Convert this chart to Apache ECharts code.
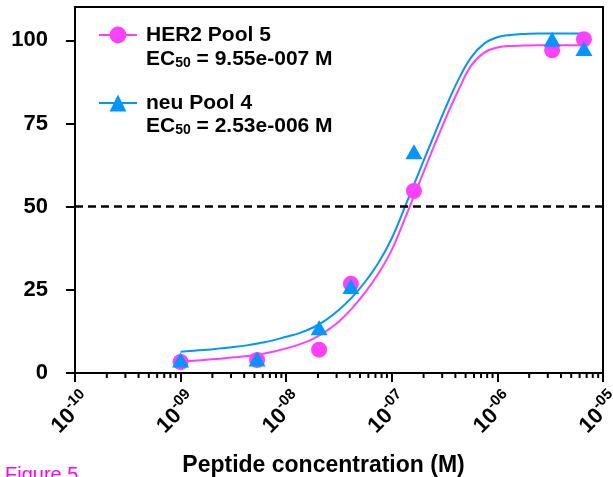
<!DOCTYPE html>
<html>
<head>
<meta charset="utf-8">
<script src="https://cdn.jsdelivr.net/npm/echarts@6/dist/echarts.min.js"></script>
<style>
html,body{margin:0;padding:0;background:#fff;}
#chart{width:613px;height:477px;}
</style>
</head>
<body>
<div id="chart"></div>
<script>
// ---- data ----
const pointConc = [1e-9, 5.3e-9, 2.05e-8, 4.1e-8, 1.62e-7, 3.3e-6, 6.6e-6];
const herResp = [3.3, 3.9, 7.0, 26.8, 54.7, 97.0, 100.3];
const neuResp = [3.9, 4.2, 13.6, 26.0, 66.5, 100.3, 97.5];

const fitConc = [
  1e-9, 1.334e-9, 1.778e-9, 2.371e-9, 3.162e-9, 4.217e-9, 5.623e-9, 7.499e-9,
  1e-8, 1.334e-8, 1.778e-8, 2.371e-8, 3.162e-8, 4.217e-8, 5.623e-8, 7.499e-8,
  1e-7, 1.334e-7, 1.778e-7, 2.371e-7, 3.162e-7, 4.217e-7, 5.623e-7, 7.499e-7,
  1e-6, 1.334e-6, 1.778e-6, 2.371e-6, 3.162e-6, 4.217e-6, 5.623e-6, 6.6e-6
];
const herFit = [
  3.4, 3.7, 4.0, 4.3, 4.7, 5.1, 5.6, 6.4,
  7.4, 8.6, 10.2, 12.5, 15.5, 19.5, 24.3, 30.0,
  37.0, 46.5, 56.3, 66.2, 75.8, 84.6, 92.3, 96.3,
  97.8, 98.3, 98.4, 98.5, 98.5, 98.5, 98.5, 98.5
];
const neuFit = [
  6.4, 6.7, 7.0, 7.4, 7.8, 8.3, 9.0, 9.8,
  10.9, 12.0, 13.6, 15.9, 19.0, 22.8, 27.5, 33.2,
  40.5, 50.0, 59.8, 69.5, 79.0, 87.8, 94.8, 99.0,
  100.9, 101.6, 101.9, 102.0, 102.0, 102.0, 102.0, 102.0
];

const seriesNames = ['HER2 Pool 5', 'neu Pool 4'];
const ec50Labels = ['9.55e-007 M', '2.53e-006 M'];
const yTicks = [0, 25, 50, 75, 100];
const thresholdY = 50;
const xTitle = 'Peptide concentration (M)';
const figureLabel = 'Figure 5';

// minor tick positions (2..9 x each decade)
const minorTicks = [];
for (let d = -10; d < -5; d++) {
  for (let k = 2; k <= 9; k++) minorTicks.push(k * Math.pow(10, d));
}

const MAG = '#ff40ff';
const BLUE = '#0096ff';
const FONT = 'Arial, "Liberation Sans", sans-serif';

const zip = (xs, ys) => xs.map((x, i) => [x, ys[i]]);

const chart = echarts.init(document.getElementById('chart'), null, {renderer: 'canvas'});

const ecRich = {
  a: {fontSize: 21, fontWeight: 'bold', fontFamily: FONT, fill: '#000', color: '#000', lineHeight: 24, verticalAlign: 'bottom'},
  s: {fontSize: 14, fontWeight: 'bold', fontFamily: FONT, fill: '#000', color: '#000', lineHeight: 24, verticalAlign: 'bottom'}
};

const option = {
  animation: false,
  backgroundColor: '#fff',
  grid: {
    left: 75, right: 10, top: 7, bottom: 104,
    containLabel: false, outerBoundsMode: 'none',
    show: true, borderColor: '#000', borderWidth: 2, backgroundColor: 'transparent'
  },
  xAxis: {
    type: 'log', logBase: 10, min: 1e-10, max: 1e-5,
    axisLine: {lineStyle: {color: '#000', width: 2}},
    axisTick: {length: 9, lineStyle: {color: '#000', width: 2}},
    splitLine: {show: false},
    axisLabel: {
      rotate: 45, margin: 34, color: '#000', align: 'center', verticalAlign: 'middle',
      hideOverlap: false, padding: [0, 14, 0, 0],
      formatter: function (v) {
        const e = Math.round(Math.log10(v));
        const s = (e < 0 ? '-' : '') + String(Math.abs(e)).padStart(2, '0');
        return '{b|10}{s|' + s + '}';
      },
      rich: {
        b: {fontSize: 22, fontWeight: 'bold', fontFamily: FONT, color: '#000', verticalAlign: 'bottom'},
        s: {fontSize: 15, fontWeight: 'bold', fontFamily: FONT, color: '#000', verticalAlign: 'bottom', padding: [0, 0, 11, 0]}
      }
    }
  },
  yAxis: {
    type: 'value', min: 0, max: 110,
    axisLine: {show: true, lineStyle: {color: '#000', width: 2}},
    axisTick: {show: true, length: 9, lineStyle: {color: '#000', width: 2}, customValues: yTicks},
    splitLine: {show: false},
    axisLabel: {
      customValues: yTicks, margin: 27, color: '#000',
      fontSize: 22, fontWeight: 'bold', fontFamily: FONT
    }
  },
  legend: {
    orient: 'vertical', left: 93, top: 18, itemGap: 44,
    itemWidth: 38, itemHeight: 21,
    data: seriesNames,
    formatter: function (name) { return '{sp|}{n|' + name + '}'; },
    textStyle: {
      color: '#000', fontSize: 21, fontWeight: 'bold', fontFamily: FONT, lineHeight: 24,
      rich: {
        sp: {width: 4},
        n: {fontSize: 21, fontWeight: 'bold', fontFamily: FONT, color: '#000', lineHeight: 24}
      }
    },
    selectedMode: false
  },
  graphic: [
    {
      type: 'text', left: 146, top: 49, z: 100,
      style: {text: '{a|EC}{s|50}{a| = ' + ec50Labels[0] + '}', rich: ecRich}
    },
    {
      type: 'text', left: 146, top: 116, z: 100,
      style: {text: '{a|EC}{s|50}{a| = ' + ec50Labels[1] + '}', rich: ecRich}
    },
    {
      type: 'text', x: 323.5, y: 466, z: 100,
      style: {
        text: xTitle, fill: '#000', fontSize: 23, fontWeight: 'bold', fontFamily: FONT,
        textAlign: 'center', textVerticalAlign: 'middle'
      }
    },
    {
      type: 'text', x: 5, y: 475, z: 100,
      style: {
        text: figureLabel, fill: '#ff00ff', fontSize: 20, fontFamily: FONT,
        textAlign: 'left', textVerticalAlign: 'middle'
      }
    }
  ],
  series: [
    {
      name: seriesNames[0], type: 'line', data: zip(fitConc, herFit),
      smooth: 0.4,
      symbol: 'circle', symbolSize: 17, showSymbol: false,
      lineStyle: {color: MAG, width: 2}, itemStyle: {color: MAG},
      z: 3,
      markLine: {
        silent: true, symbol: 'none', label: {show: false},
        lineStyle: {type: [8, 5], color: '#000', width: 2.5},
        data: [{yAxis: thresholdY}]
      }
    },
    {
      name: seriesNames[1], type: 'line', data: zip(fitConc, neuFit),
      smooth: 0.4,
      symbol: 'triangle', symbolSize: 17, showSymbol: false,
      lineStyle: {color: BLUE, width: 2}, itemStyle: {color: BLUE},
      z: 3
    },
    {
      name: seriesNames[0], type: 'scatter', data: zip(pointConc, herResp),
      symbol: 'circle', symbolSize: 16, itemStyle: {color: MAG, opacity: 1}, z: 4
    },
    {
      name: seriesNames[1], type: 'scatter', data: zip(pointConc, neuResp),
      symbol: 'triangle', symbolSize: [17, 15], itemStyle: {color: BLUE, opacity: 1}, z: 5
    },
    {
      type: 'custom', silent: true, clip: false, z: 10,
      data: minorTicks.map(v => [v, 0]),
      renderItem: function (params, api) {
        const p = api.coord([api.value(0), api.value(1)]);
        return {
          type: 'line',
          shape: {x1: p[0], y1: p[1], x2: p[0], y2: p[1] + 5},
          style: {stroke: '#000', lineWidth: 2}
        };
      }
    }
  ]
};

chart.setOption(option);
</script>
</body>
</html>
